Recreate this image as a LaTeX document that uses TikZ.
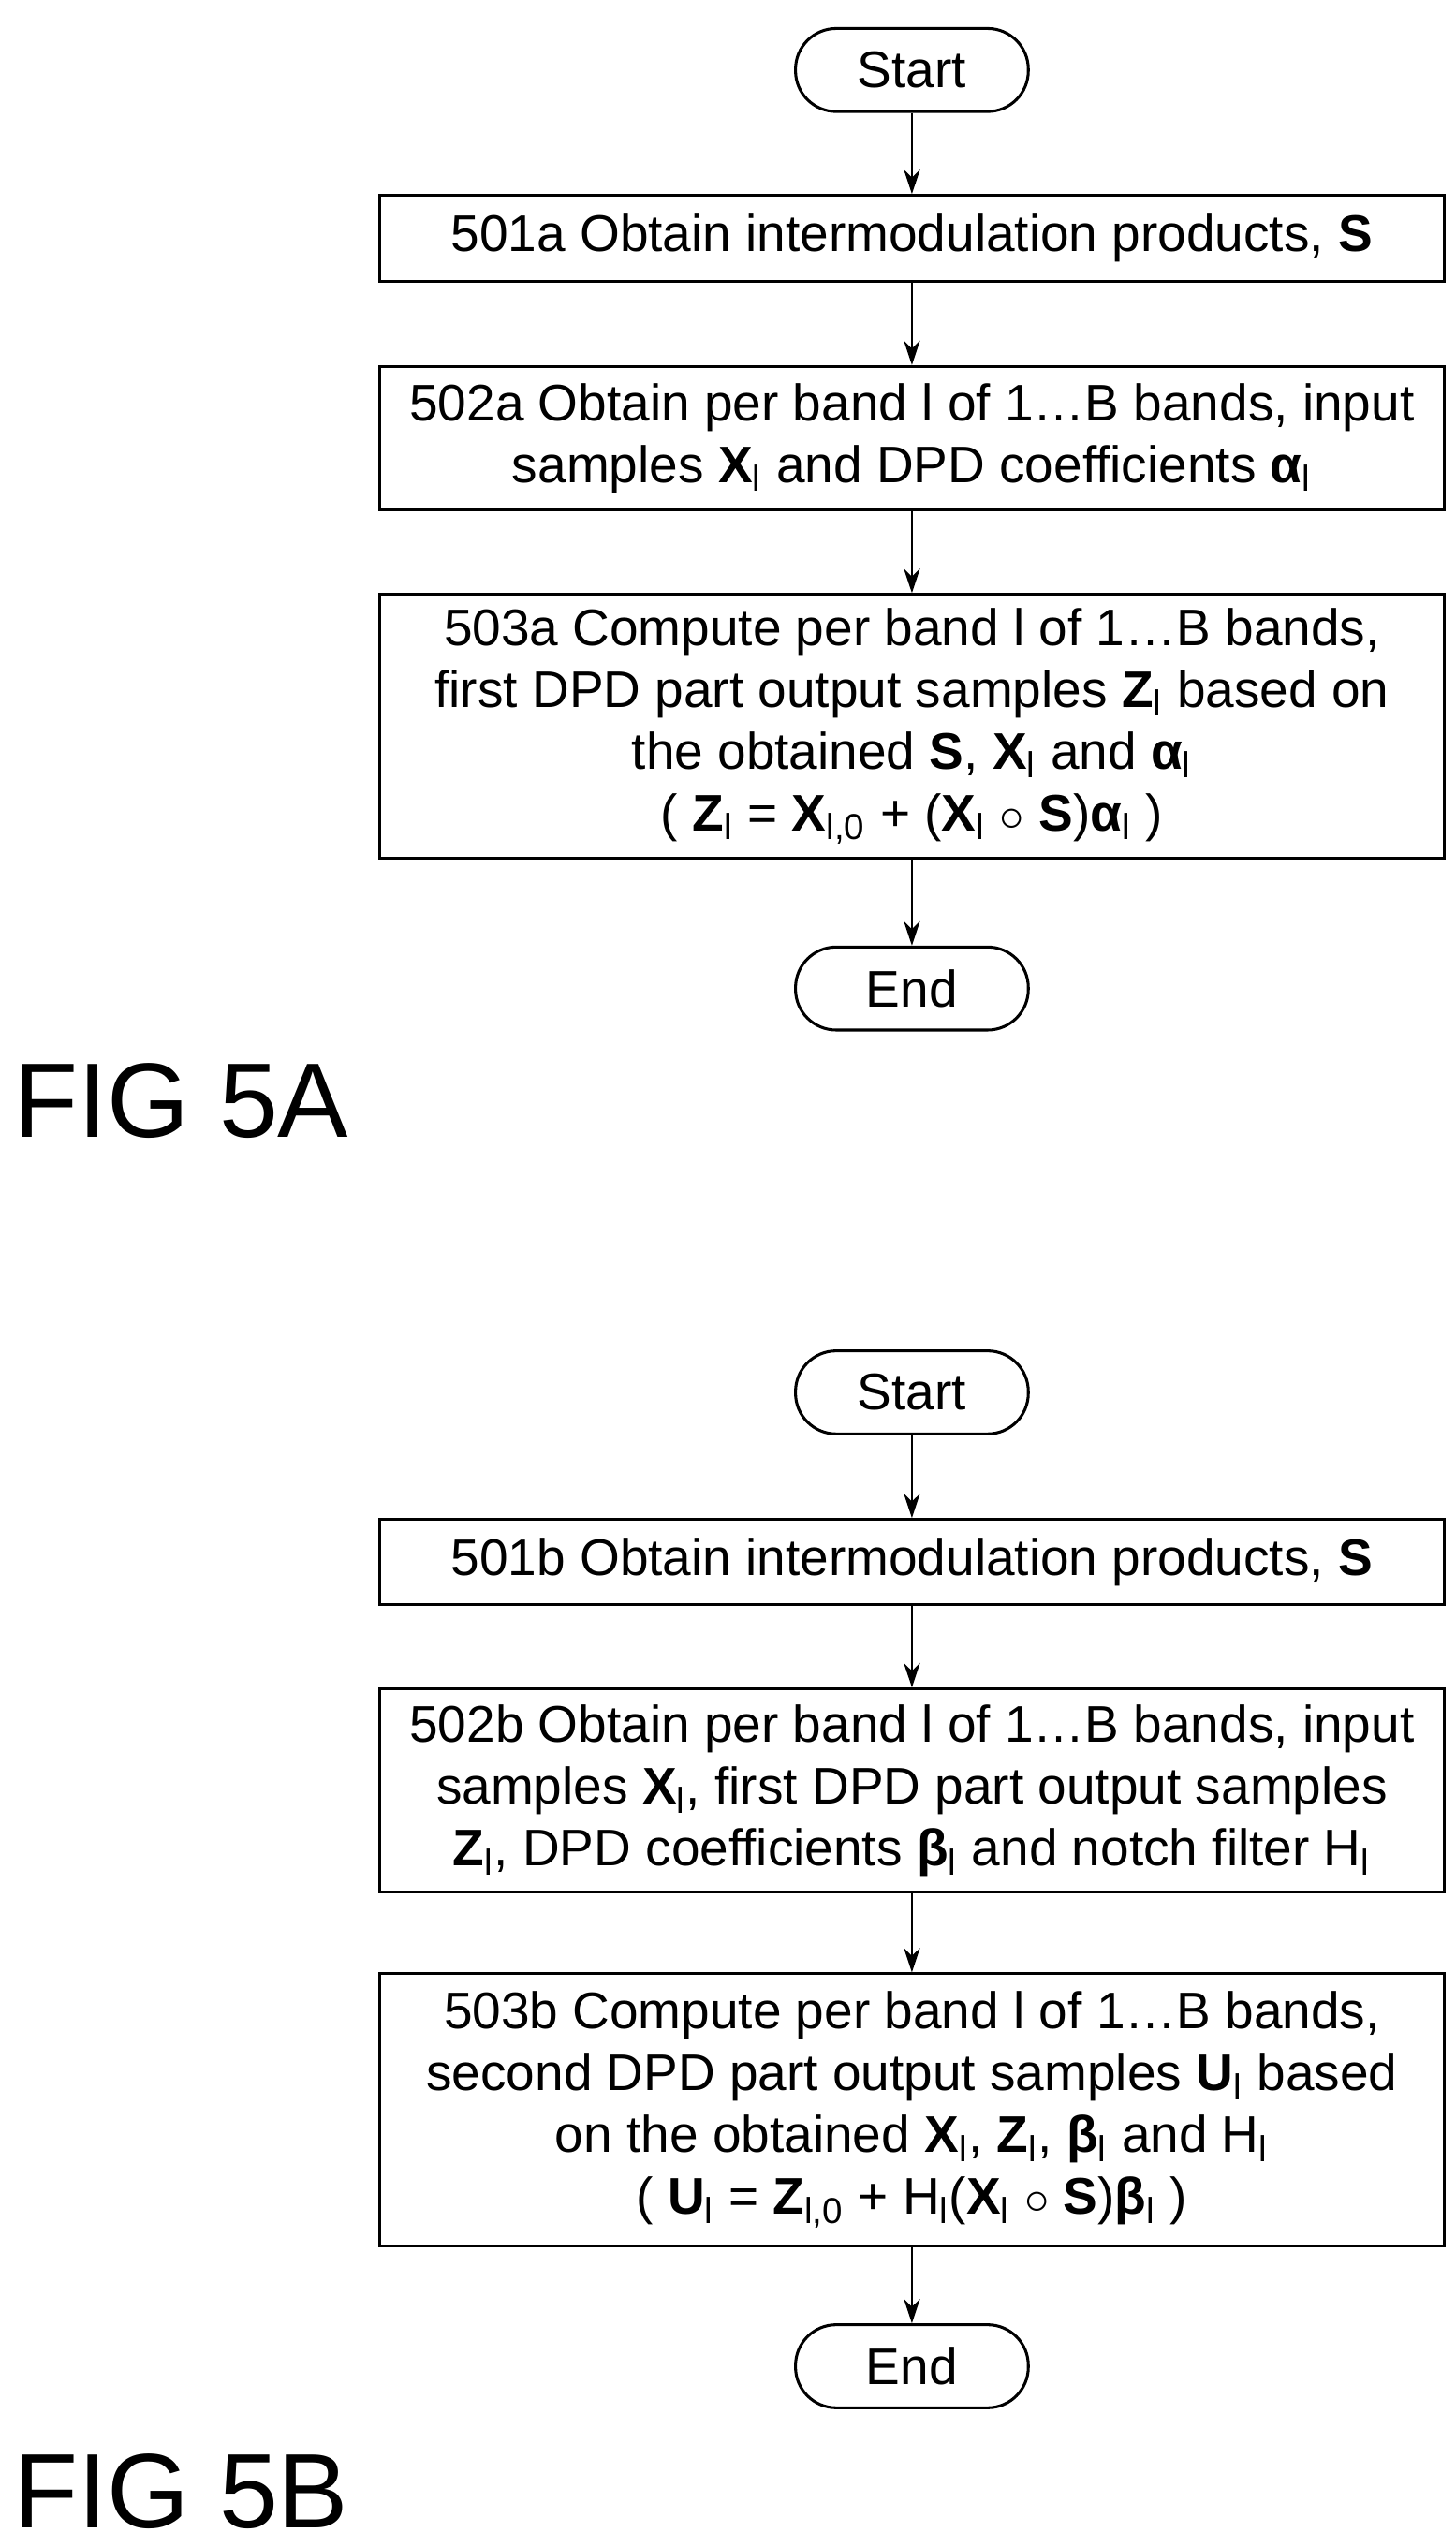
\documentclass[tikz,border=0pt]{standalone}
\usepackage{fontspec}
\setmainfont{Liberation Sans}
\usetikzlibrary{arrows.meta}
\usetikzlibrary{positioning}
\tikzset{
    procbox/.style={
        draw,
        rectangle,
        line width=1pt,
        minimum width=13.08cm,
        align=center,
        font=\fontsize{18}{21.6}\selectfont
    },
    term/.style={
        draw,
        rounded corners=0.5cm,
        line width=1pt,
        minimum width=2.86cm,
        minimum height=1.02cm,
        font=\fontsize{18}{21.6}\selectfont
    },
    every edge/.style={
        draw,
        -{Stealth[length=3mm, width=2mm]},
        line width=0.8pt
    }
}
\newcommand{\bs}[1]{\textbf{#1}\textsubscript{l}}
\begin{document}
\begin{tikzpicture}[x=0.02cm,y=-0.02cm]
  \useasboundingbox (0,0) rectangle (894,1564);

  % FIG 5A
  \node[term] (starta) at (560,43) {Start};
  \node[procbox, minimum height=1.06cm] (s501a) at (560,146.5) {501a Obtain intermodulation products, \textbf{S}};
  \node[procbox, minimum height=1.76cm] (s502a) at (560,269) {502a Obtain per band l of 1…B bands, input\\samples \bs{X} and DPD coefficients \bs{α}};
  \node[procbox, minimum height=3.24cm] (s503a) at (560,446) {503a Compute per band l of 1…B bands,\\first DPD part output samples \bs{Z} based on\\the obtained \textbf{S}, \bs{X} and \bs{α}\\( \bs{Z} = \textbf{X}\textsubscript{l,0} + (\bs{X} \ensuremath{\circ} \textbf{S})\bs{α} )};
  \node[term] (enda) at (560,607) {End};
  \node[anchor=west, font=\fontsize{37}{44}\selectfont] (figa) at (2,676) {FIG 5A};

  \draw (starta) edge (s501a)
        (s501a) edge (s502a)
        (s502a) edge (s503a)
        (s503a) edge (enda);

  % FIG 5B
  \node[term] (startb) at (560,855) {Start};
  \node[procbox, minimum height=1.04cm] (s501b) at (560,959) {501b Obtain intermodulation products, \textbf{S}};
  \node[procbox, minimum height=2.5cm] (s502b) at (560,1099.5) {502b Obtain per band l of 1…B bands, input\\samples \bs{X}, first DPD part output samples\\\bs{Z}, DPD coefficients \bs{β} and notch filter H\textsubscript{l}};
  \node[procbox, minimum height=3.34cm] (s503b) at (560,1295.5) {503b Compute per band l of 1…B bands,\\second DPD part output samples \bs{U} based\\on the obtained \bs{X}, \bs{Z}, \bs{β} and H\textsubscript{l}\\( \bs{U} = \textbf{Z}\textsubscript{l,0} + H\textsubscript{l}(\bs{X} \ensuremath{\circ} \textbf{S})\bs{β} )};
  \node[term] (endb) at (560,1453) {End};
  \node[anchor=west, font=\fontsize{37}{44}\selectfont] (figb) at (2,1530) {FIG 5B};

  \draw (startb) edge (s501b)
        (s501b) edge (s502b)
        (s502b) edge (s503b)
        (s503b) edge (endb);
\end{tikzpicture}
\end{document}
